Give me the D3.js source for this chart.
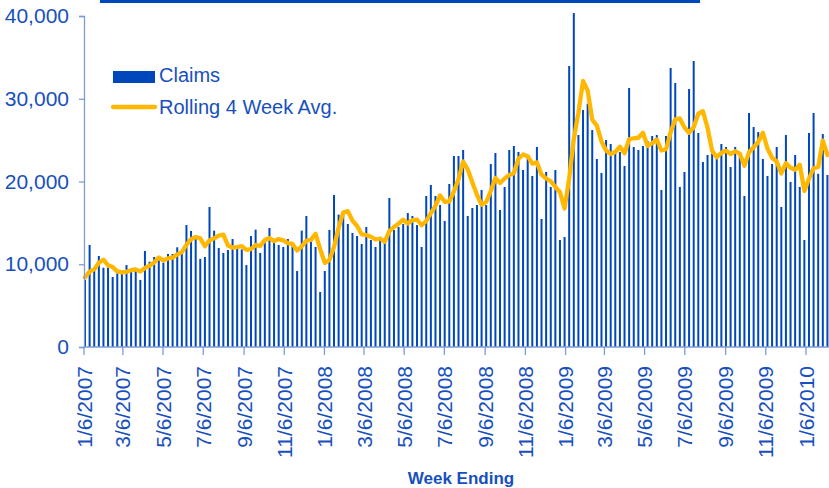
<!DOCTYPE html>
<html>
<head>
<meta charset="utf-8">
<script src="https://cdn.jsdelivr.net/npm/d3@7"></script>
<style>
  html, body { margin: 0; padding: 0; background: #fff; }
  svg { display: block; }
  text { font-family: "Liberation Sans", Arial, sans-serif; }
</style>
</head>
<body>
<svg id="chart" width="829" height="488"></svg>
<script>
// ---- data ----
const startWeek = "1/6/2007";
const claims = [
  8100,12330,9300,11000,9580,9600,8460,8900,9100,9900,
  9220,9300,8100,11600,10300,10880,10500,10200,11240,11240,
  12050,11300,14740,14020,13130,10650,10880,16920,14060,11960,
  11360,11720,13050,12200,11800,9900,13410,14180,11360,12730,
  14380,12730,12330,12090,13050,12330,9180,14060,15830,12730,
  12090,6650,9180,14140,18370,16000,16440,14860,13780,13410,
  12450,14500,12930,12090,12930,12930,18010,14140,14500,14860,
  16190,15830,14740,12090,18250,19580,18250,17160,15230,19700,
  23080,23080,23810,15830,16800,17160,18970,17160,22120,23440,
  16560,19340,23810,24290,23570,21390,23000,20670,24170,15470,
  21150,19340,21390,12930,13290,33960,40360,25620,28640,29400,
  26220,22720,21030,25020,24530,23690,23570,21870,31300,24170,
  23810,24290,24900,25500,25620,18970,25500,33720,31900,19340,
  21150,31180,34560,25860,22360,23200,23400,22800,24530,24170,
  21750,24170,23400,18250,28280,26590,25980,22720,20670,22120,
  24170,16920,25620,19940,23200,19340,12930,25860,28280,20930,
  25730,20790
];
const rollingAvg = [
  8420,9100,9380,10183,10553,9870,9660,9135,9015,9090,
  9280,9380,9130,9555,9825,10220,10820,10470,10705,10795,
  11183,11458,12333,13028,13298,13135,12170,12895,13128,13455,
  13575,12275,12023,12083,12193,11738,11828,12323,12213,12920,
  13163,12800,13043,12883,12550,12450,11663,12155,12850,12950,
  13678,11825,10163,10515,12085,14423,16238,16418,15270,14623,
  13625,13535,13323,12993,13113,12720,13990,14503,14895,15378,
  14923,15345,15405,14713,15228,16165,17043,18310,17555,17585,
  18793,20273,22418,21450,19880,18400,17190,17523,18853,20423,
  19820,20365,20788,21000,22753,23265,23063,22158,22308,20828,
  20365,20033,19338,18703,16738,20393,25135,28308,32145,31005,
  27470,26745,24843,23748,23325,23568,24203,23415,25108,25228,
  25288,25893,24293,24625,25078,23748,23898,25953,27523,27615,
  26528,25893,26558,28188,28490,26495,23705,22940,23483,23725,
  23313,23655,23373,21893,23525,24130,24775,25893,23990,22873,
  22420,20970,22208,21663,21420,22025,18853,20333,21603,21750,
  24950,23200
];
const xTickLabels = [
  "1/6/2007","3/6/2007","5/6/2007","7/6/2007","9/6/2007","11/6/2007",
  "1/6/2008","3/6/2008","5/6/2008","7/6/2008","9/6/2008","11/6/2008",
  "1/6/2009","3/6/2009","5/6/2009","7/6/2009","9/6/2009","11/6/2009",
  "1/6/2010"
];
const yTicks = [0, 10000, 20000, 30000, 40000];
const seriesNames = ["Claims", "Rolling 4 Week Avg."];
const xTitle = "Week Ending";

// ---- setup ----
const parse = d3.timeParse("%m/%d/%Y");
const t0 = parse(startWeek);
const weeks = claims.map((_, i) => d3.timeDay.offset(t0, i * 7));
const tickDates = xTickLabels.map(parse);

const BLUE = "#0047BB";
const TEXT = "#1750BE";
const AXIS = "#7F9BD6";
const GOLD = "#FFB700";

const svg = d3.select("#chart");
const x = d3.scaleTime().domain([tickDates[0], tickDates[tickDates.length - 1]]).range([84, 806]);
const y = d3.scaleLinear().domain([0, 40000]).range([347, 16]);
const plotRight = 829;

// top stripe (title box remnant)
svg.append("rect").attr("x", 100).attr("y", 0).attr("width", 600).attr("height", 3).attr("fill", BLUE);

// bars
svg.append("g").selectAll("rect").data(claims).join("rect")
  .attr("x", (d, i) => x(weeks[i]))
  .attr("y", d => y(d))
  .attr("width", 2)
  .attr("height", d => y(0) - y(d))
  .attr("fill", BLUE);

// rolling average line
const line = d3.line()
  .x((d, i) => x(weeks[i]) + 1)
  .y(d => y(d));
svg.append("path").datum(rollingAvg)
  .attr("d", line)
  .attr("fill", "none")
  .attr("stroke", GOLD)
  .attr("stroke-width", 4.3)
  .attr("stroke-linejoin", "round")
  .attr("stroke-linecap", "round");

// y axis
const yAxis = d3.axisLeft(y).tickValues(yTicks).tickSize(5).tickPadding(10)
  .tickFormat(d3.format(","));
const gy = svg.append("g").attr("transform", "translate(84,0)").call(yAxis);
gy.select(".domain").attr("stroke", AXIS).attr("stroke-width", 1.3);
gy.selectAll(".tick line").attr("stroke", AXIS).attr("stroke-width", 1.3);
gy.selectAll(".tick text").attr("fill", TEXT).attr("font-size", 21)
  .style("font-family", '"Liberation Sans", Arial, sans-serif');

// x axis line
svg.append("line").attr("x1", 84).attr("x2", plotRight).attr("y1", 347).attr("y2", 347)
  .attr("stroke", AXIS).attr("stroke-width", 1.3);

// x ticks + labels
const gx = svg.append("g");
gx.selectAll("line").data(tickDates).join("line")
  .attr("x1", d => x(d)).attr("x2", d => x(d))
  .attr("y1", 347).attr("y2", 355)
  .attr("stroke", AXIS).attr("stroke-width", 1.3);
gx.selectAll("text").data(tickDates).join("text")
  .attr("transform", d => `translate(${x(d)},366) rotate(-90)`)
  .attr("text-anchor", "end")
  .attr("dy", "0.36em")
  .attr("fill", TEXT)
  .attr("font-size", 21)
  .text((d, i) => xTickLabels[i]);

// x title
svg.append("text").attr("x", 461).attr("y", 484).attr("text-anchor", "middle")
  .attr("fill", TEXT).attr("font-size", 17).attr("font-weight", "bold")
  .text(xTitle);

// legend
const lg = svg.append("g");
lg.append("rect").attr("x", 113).attr("y", 71).attr("width", 42).attr("height", 12).attr("fill", BLUE);
lg.append("text").attr("x", 159).attr("y", 82).attr("fill", TEXT).attr("font-size", 20).text(seriesNames[0]);
lg.append("line").attr("x1", 113).attr("x2", 155).attr("y1", 107).attr("y2", 107)
  .attr("stroke", GOLD).attr("stroke-width", 4.3).attr("stroke-linecap", "round");
lg.append("text").attr("x", 159).attr("y", 114).attr("fill", TEXT).attr("font-size", 20).text(seriesNames[1]);
</script>
</body>
</html>
